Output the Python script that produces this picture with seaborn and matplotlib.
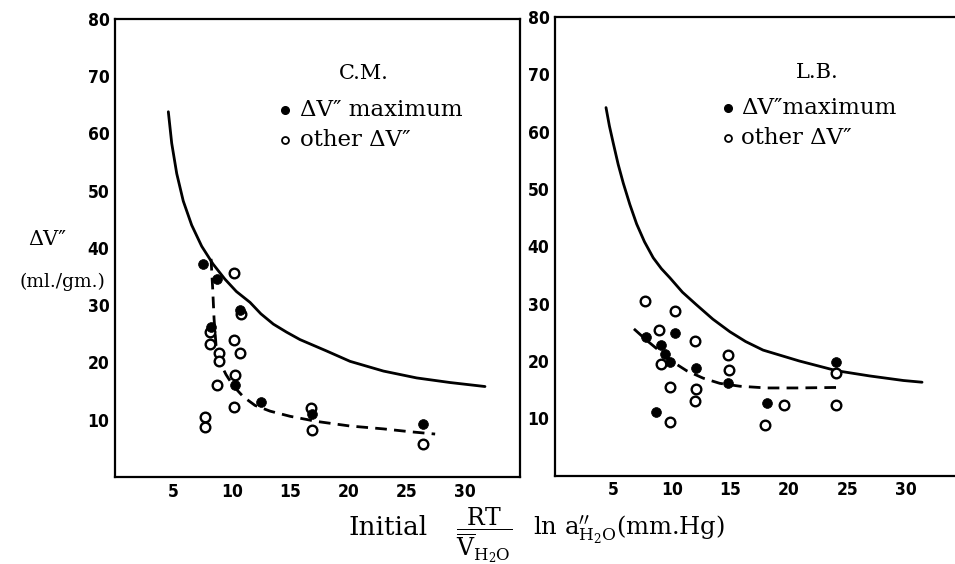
import numpy as np
import pandas as pd
import seaborn as sns
import matplotlib.pyplot as plt
import matplotlib.ticker as mticker

# ---- C.M. (left panel) ----
cm_max_x = [7.5, 8.7, 8.2, 10.7, 10.3, 12.5, 16.9, 26.4]
cm_max_y = [37.2, 34.6, 26.2, 29.1, 16.1, 13.1, 11.0, 9.3]
cm_oth_x = [10.2, 10.8, 8.1, 8.1, 10.2, 10.7, 8.9, 8.9, 10.3, 8.7, 10.2, 7.7, 7.7, 16.8, 16.9, 26.4]
cm_oth_y = [35.7, 28.4, 25.3, 23.2, 23.9, 21.6, 21.6, 20.2, 17.9, 16.1, 12.2, 10.4, 8.8, 12.1, 8.2, 5.8]
cm_solid_x = [4.57, 4.86, 5.29, 5.85, 6.57, 7.43, 8.4, 9.4, 10.4, 11.57, 12.5, 13.57, 14.7,
              15.85, 18.14, 20.14, 23.0, 25.85, 28.7, 31.7]
cm_solid_y = [63.8, 58.3, 53.0, 48.2, 44.0, 40.3, 37.2, 34.6, 32.4, 30.5, 28.5, 26.7, 25.3,
              24.0, 22.0, 20.2, 18.5, 17.3, 16.5, 15.8]
cm_dash_x = [8.23, 8.37, 8.49, 8.66, 9.0, 9.51, 10.14, 11.0, 12.0, 13.29, 15.0, 17.29, 20.14, 23.0, 25.29, 27.43]
cm_dash_y = [38.1, 32.9, 27.6, 22.9, 20.0, 17.9, 15.9, 14.0, 12.5, 11.5, 10.6, 9.7, 8.9, 8.4, 7.9, 7.5]

# ---- L.B. (right panel) ----
lb_max_x = [7.8, 9.1, 9.4, 9.8, 10.3, 12.1, 14.8, 8.6, 18.1, 24.0]
lb_max_y = [24.1, 22.8, 21.3, 19.9, 24.9, 18.8, 16.1, 11.1, 12.6, 19.9]
lb_oth_x = [7.7, 10.3, 8.9, 12.0, 14.8, 14.9, 9.1, 9.8, 12.1, 12.0, 9.8, 18.0, 19.6, 24.0, 24.0]
lb_oth_y = [30.4, 28.8, 25.4, 23.5, 21.1, 18.5, 19.4, 15.5, 15.1, 13.1, 9.3, 8.8, 12.3, 17.9, 12.4]
lb_solid_x = [4.36, 4.65, 4.98, 5.4, 5.84, 6.4, 6.98, 7.65, 8.4, 9.1, 9.83, 10.9, 12.1, 13.5,
              14.96, 16.3, 17.8, 20.9, 24.1, 26.9, 29.8, 31.4]
lb_solid_y = [64.2, 61.0, 58.0, 54.3, 51.0, 47.3, 43.9, 40.8, 38.0, 36.1, 34.5, 32.0, 29.8, 27.3,
              25.1, 23.4, 21.9, 20.0, 18.3, 17.4, 16.6, 16.3]
lb_dash_x = [6.75, 7.84, 8.97, 10.11, 11.26, 12.68, 14.1, 15.81, 18.1, 20.66, 24.64]
lb_dash_y = [25.6, 23.6, 21.7, 19.8, 18.3, 17.0, 16.1, 15.6, 15.3, 15.3, 15.4]

x_ticks = [5, 10, 15, 20, 25, 30]
y_ticks = [10, 20, 30, 40, 50, 60, 70, 80]

sns.set_style('white')
plt.rcParams['font.family'] = ['DejaVu Sans']
plt.rcParams['mathtext.fontset'] = 'dejavuserif'
plt.rcParams['text.color'] = 'black'
plt.rcParams['xtick.color'] = 'black'
plt.rcParams['ytick.color'] = 'black'

fig = plt.figure(figsize=(9.55, 5.64), dpi=100)
ax1 = fig.add_axes([0.1204, 0.1543, 0.4241, 0.812])
ax2 = fig.add_axes([0.5812, 0.1566, 0.4253, 0.8133])

serif = 'DejaVu Serif'
panels = [
    (ax1, 'C.M.', '\u0394V\u2033 maximum', cm_max_x, cm_max_y, cm_oth_x, cm_oth_y,
     cm_solid_x, cm_solid_y, cm_dash_x, cm_dash_y, 34.7, (0.615, 0.882), 0.42, 0.457),
    (ax2, 'L.B.', '\u0394V\u2033maximum', lb_max_x, lb_max_y, lb_oth_x, lb_oth_y,
     lb_solid_x, lb_solid_y, lb_dash_x, lb_dash_y, 34.75, (0.645, 0.878), 0.425, 0.458),
]

for ax, name, lab1, mx, my, ox, oy, sx, sy, dx, dy, xmax, tpos, bx, txx in panels:
    sns.lineplot(x=sx, y=sy, ax=ax, color='black', linewidth=2.0, sort=False)
    sns.lineplot(x=dx, y=dy, ax=ax, color='black', linewidth=2.0, sort=False,
                 linestyle=(0, (4.2, 2.6)))
    sns.scatterplot(x=ox, y=oy, ax=ax, s=48, marker='o', facecolor='white',
                    edgecolor='black', linewidth=1.7, zorder=3)
    sns.scatterplot(x=mx, y=my, ax=ax, s=50, marker='o', color='black',
                    edgecolor='black', linewidth=0.5, zorder=4)

    ax.set_xlim(0, xmax)
    ax.set_ylim(0, 80)
    ax.xaxis.set_major_locator(mticker.FixedLocator(x_ticks))
    ax.yaxis.set_major_locator(mticker.FixedLocator(y_ticks))
    ax.tick_params(direction='in', length=7, width=1.5, labelsize=12.5, pad=4,
                   colors='black')
    for lab in ax.get_xticklabels() + ax.get_yticklabels():
        lab.set_fontweight('bold')
        lab.set_fontstretch('condensed')
    for sp in ax.spines.values():
        sp.set_linewidth(1.6)
        sp.set_color('black')
    ax.set_xlabel('')
    ax.set_ylabel('')

    # panel title and legend
    ax.text(tpos[0], tpos[1], name, transform=ax.transAxes, ha='center', va='center',
            fontsize=15, family=serif)
    ax.plot([bx], [0.801], 'o', transform=ax.transAxes,
            color='black', markersize=5.5)
    ax.plot([bx], [0.736], 'o', transform=ax.transAxes,
            markerfacecolor='white', markeredgecolor='black', markersize=5, markeredgewidth=1.3)
    ax.text(txx, 0.801, lab1, transform=ax.transAxes,
            ha='left', va='center', fontsize=16.5, family=serif)
    ax.text(txx, 0.736, 'other \u0394V\u2033', transform=ax.transAxes,
            ha='left', va='center', fontsize=16.5, family=serif)

ax2.spines['right'].set_visible(False)

# y-axis label (left of left panel)
fig.text(0.049, 0.575, '\u0394V\u2033', ha='center', va='center', fontsize=15, family=serif)
fig.text(0.065, 0.5, '(ml./gm.)', ha='center', va='center', fontsize=13.5, family=serif)

# x-axis label, in three pieces so the fraction sits between the two panels
fig.text(0.3644, 0.0514, 'Initial', ha='left', va='baseline', fontsize=19, family=serif)
fig.text(0.507, 0.052, r'$\dfrac{\mathrm{RT}}{\overline{\mathrm{V}}_{\mathrm{H_2O}}}$',
         ha='center', va='center', fontsize=17)
fig.text(0.558, 0.0514, r'ln $\mathrm{a}^{\prime\prime}_{\mathrm{H_2O}}$(mm.Hg)',
         ha='left', va='baseline', fontsize=17.5, family=serif)

fig.savefig('out.png', dpi=100)
